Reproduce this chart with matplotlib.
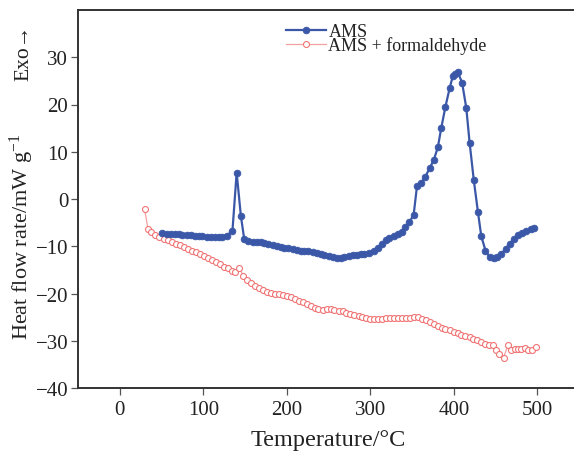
import matplotlib
matplotlib.use("Agg")
import matplotlib.pyplot as plt

plt.rcParams['font.family'] = ['Liberation Serif', 'DejaVu Serif']
plt.rcParams['mathtext.fontset'] = 'custom'
plt.rcParams['mathtext.rm'] = 'Liberation Serif'
plt.rcParams['mathtext.it'] = 'Liberation Serif:italic'
plt.rcParams['mathtext.bf'] = 'Liberation Serif:bold'

# AMS
ams_t = [51, 56, 61, 66, 71, 75, 80, 85, 90, 95, 99, 104, 109, 114, 119, 123, 128,
         135, 140, 145, 149, 154, 159, 164, 169, 173, 178, 183, 188, 193, 197, 202,
         207, 212, 217, 221, 226, 231, 236, 241, 245, 250, 255, 260, 265, 269, 274,
         279, 284, 289, 293, 298, 304, 309, 314, 319, 323, 328, 333, 338, 342, 347,
         352, 356, 361, 366, 371, 376, 381, 385, 390, 395, 399, 402, 405, 410, 415,
         419, 424, 429, 433, 438, 443, 448, 452, 457, 462, 467, 472, 477, 482, 487,
         492, 496]
ams_hf = [-7.3, -7.35, -7.4, -7.45, -7.5, -7.6, -7.65, -7.7, -7.8, -7.85, -7.9, -7.95,
          -8.0, -8.05, -8.05, -8.05, -7.8,
          -6.7, 5.6, -3.5, -8.4, -8.8, -9.0, -9.1, -9.2, -9.3, -9.5, -9.7, -9.9, -10.1,
          -10.3, -10.4, -10.5, -10.7, -10.9, -11.0, -11.1, -11.3, -11.5, -11.6, -11.9,
          -12.1, -12.3, -12.4, -12.4, -12.3, -12.1, -11.9, -11.8, -11.7, -11.6, -11.4,
          -10.9, -10.3, -9.5, -8.6, -8.3, -7.9, -7.5, -6.9, -6.0, -4.9, -3.3, 2.75,
          3.45, 4.7, 6.5, 8.2, 11.0, 15.0, 19.5, 23.4, 26.1, 26.5, 26.8, 24.6, 19.3,
          11.9, 4.0, -2.8, -7.9, -10.9, -12.3, -12.4, -12.3, -11.7, -10.5, -9.5, -8.4,
          -7.6, -7.1, -6.8, -6.4, -6.1]

# AMS + formaldehyde
amsf_t = [29.7, 33.8, 37.9, 42.8, 47.6, 52.5, 57.3, 62.1, 67, 71.8, 76.6, 81.4, 86.3,
          91.1, 95.9, 100.7, 105.6, 110.4, 115.2, 120, 124.9, 129.7, 134.5, 138.3,
          143, 148, 152.5, 157, 162, 166.5, 171.5, 176, 181, 186, 190.5, 195.5, 200,
          205, 210, 214.5, 219, 224, 229, 233.5, 238, 243, 248, 252.5, 257, 262, 267,
          271.5, 276, 281, 286, 290.5, 295, 300, 305, 309.5, 314, 319, 324, 328.5,
          333, 338, 343, 347.5, 352, 357, 362, 366.5, 371, 376, 381, 385.5, 390, 395,
          400, 404.5, 409, 414, 419, 423.5, 428, 433, 438, 442.5, 447, 450, 453.6,
          459.6, 464.9, 468.9, 473, 477, 481, 485, 489, 493.6, 498.8]
amsf_hf = [-2.1, -6.3, -7.0, -7.6, -8.0, -8.4, -8.75, -9.1, -9.45, -9.8, -10.1, -10.5,
           -10.9, -11.3, -11.7, -12.1, -12.5, -12.9, -13.4, -13.8, -14.3, -14.7, -15.2,
           -15.5, -14.6, -16.2, -17.2, -17.8, -18.4, -18.9, -19.3, -19.6, -19.9, -20.0,
           -20.2, -20.4, -20.6, -20.8, -21.1, -21.5, -21.9, -22.3, -22.7, -23.0, -23.2,
           -23.4, -23.3, -23.2, -23.4, -23.6, -23.8, -24.2, -24.4, -24.6, -24.8, -25.0,
           -25.2, -25.3, -25.4, -25.5, -25.4, -25.2, -25.1, -25.1, -25.2, -25.2, -25.2,
           -25.1, -25.0, -25.0, -25.3, -25.7, -26.1, -26.5, -26.9, -27.2, -27.5, -27.8,
           -28.1, -28.4, -28.7, -29.0, -29.3, -29.6, -29.9, -30.2, -30.6, -30.9, -31.0,
           -31.9, -32.8, -33.6, -30.9, -31.9, -31.8, -31.8, -31.7, -31.6, -31.9, -31.9,
           -31.4]

series_labels = ['AMS', 'AMS + formaldehyde']
x_ticks = [0, 100, 200, 300, 400, 500]
y_ticks = [-40, -30, -20, -10, 0, 10, 20, 30]

fig = plt.figure(figsize=(5.74, 4.52), dpi=100)
ax = fig.add_axes([78/574, 63/452, 501/574, 378/452])

blue = '#3b58a8'
red_line = '#f4a0a0'
red_edge = '#f07474'

ax.plot(ams_t, ams_hf, '-', color=blue, lw=1.6, marker='o', ms=4.8,
        mfc=blue, mec=blue, mew=0.6, label=series_labels[0], zorder=3)
ax.plot(amsf_t, amsf_hf, '-', color=red_line, lw=0.9, marker='o', ms=4.3,
        mfc='white', mec=red_edge, mew=0.8, label=series_labels[1], zorder=2)

ax.set_xlim(-50, 550)
ax.set_ylim(-40, 40)
ax.set_xticks(x_ticks)
ax.set_yticks(y_ticks)
ax.set_yticklabels([f'{v}'.replace('-', '\u2212') for v in y_ticks])

for side in ['left', 'bottom', 'top']:
    ax.spines[side].set_color('#333333')
    ax.spines[side].set_linewidth(1.4)
ax.spines['right'].set_visible(False)
ax.tick_params(direction='out', length=5, width=0.9, color='#555555',
               labelsize=15, labelcolor='#222222', pad=2)
ax.tick_params(axis='x', pad=4)

ax.set_xlabel('Temperature/\u00b0C', fontsize=17.5, color='#222222', labelpad=7)

fig.text(22/574, 1 - 237/452, r'Heat flow rate/mW g$^{-1}$', rotation=90,
         ha='center', va='center', fontsize=16, color='#222222')
fig.text(24/574, 1 - 53/452, 'Exo\u2192', rotation=90,
         ha='center', va='center', fontsize=15.5, color='#222222')

leg = ax.legend(loc='upper left', bbox_to_anchor=((286 - 78) / 501, 1 - (24 - 11) / 378),
                frameon=False, fontsize=13, handlelength=2.2, handletextpad=0.15,
                labelspacing=-0.2, borderpad=0, borderaxespad=0)
for t in leg.get_texts():
    t.set_color('#222222')

fig.savefig('out.png', dpi=100)
